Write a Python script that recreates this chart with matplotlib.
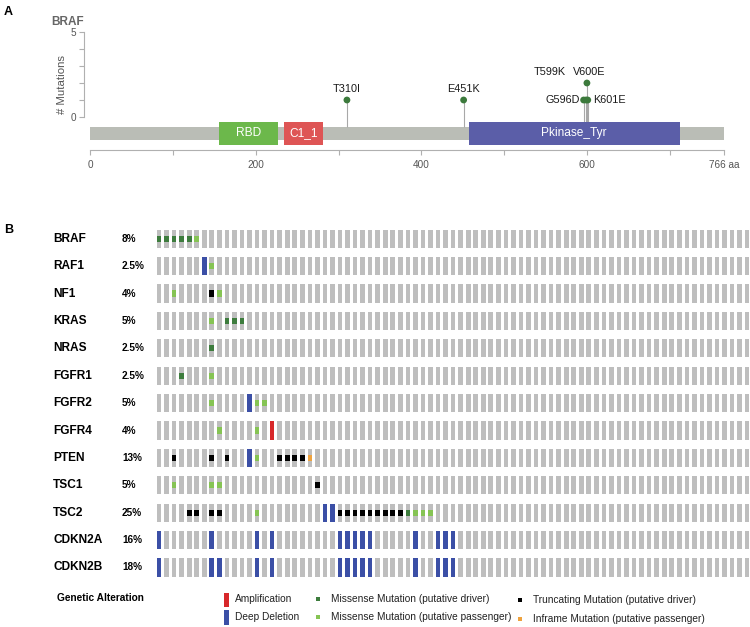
import numpy as np
import matplotlib
matplotlib.use("Agg")
import matplotlib.pyplot as plt
import matplotlib.transforms as mtransforms
from matplotlib.patches import Rectangle

plt.rcParams['font.family'] = ['Liberation Sans', 'DejaVu Sans']

# ---- panel A: BRAF lollipop ----
protein_len = 766
domain_names = ['RBD', 'C1_1', 'Pkinase_Tyr']
domain_start = [155, 234, 457]
domain_end = [227, 281, 712]
domain_colors = ['#6cb84b', '#de5555', '#5b5ea8']

mut_labels = ['T310I', 'E451K', 'G596D', 'T599K', 'V600E', 'K601E']
mut_pos = [310, 451, 596, 599, 600, 601]
mut_count = [1, 1, 1, 1, 2, 1]

# ---- panel B: oncoprint ----
genes = ['BRAF', 'RAF1', 'NF1', 'KRAS', 'NRAS', 'FGFR1', 'FGFR2', 'FGFR4',
         'PTEN', 'TSC1', 'TSC2', 'CDKN2A', 'CDKN2B']
pct = ['8%', '2.5%', '4%', '5%', '2.5%', '2.5%', '5%', '4%',
       '13%', '5%', '25%', '16%', '18%']
n_samples = 80

amplification = {'FGFR4': [15]}
deep_deletion = {'RAF1': [6], 'FGFR2': [12], 'PTEN': [12], 'TSC2': [22, 23],
                 'CDKN2A': [0, 7, 13, 15, 24, 25, 26, 27, 28, 34, 37, 38, 39],
                 'CDKN2B': [0, 7, 8, 13, 15, 24, 25, 26, 27, 28, 34, 37, 38, 39]}
missense_driver = {'BRAF': [0, 1, 2, 3, 4], 'KRAS': [9, 10, 11], 'NRAS': [7],
                   'FGFR1': [3], 'TSC2': [33]}
missense_passenger = {'BRAF': [5], 'RAF1': [7], 'NF1': [2, 8], 'KRAS': [7],
                      'FGFR1': [7], 'FGFR2': [7, 13, 14], 'FGFR4': [8, 13],
                      'PTEN': [13], 'TSC1': [2, 7, 8], 'TSC2': [13, 34, 35, 36]}
truncating = {'NF1': [7], 'PTEN': [2, 7, 9, 16, 17, 18, 19], 'TSC1': [21],
              'TSC2': [4, 5, 7, 8, 24, 25, 26, 27, 28, 29, 30, 31, 32]}
inframe = {'PTEN': [20]}

W, H = 750, 627
fig = plt.figure(figsize=(W / 100, H / 100), dpi=100)


def fx(px):
    return px / W


def fy(py):
    return 1 - py / H


# lollipop axes: 0 aa at px 90.4, 766 at px 724.3; y=0 at px 117, 17 px per mutation
axA = fig.add_axes([fx(90.4), fy(150), (724.3 - 90.4) / W, (150 - 20) / H])
axA.set_xlim(0, protein_len)
axA.set_ylim((117 - 150) / 17, (117 - 20) / 17)
for s in ['top', 'right']:
    axA.spines[s].set_visible(False)
axA.spines['left'].set_position(('outward', 4.6))
axA.spines['left'].set_bounds(0, 5)
axA.spines['left'].set_color('#b0b0b0')
axA.spines['bottom'].set_bounds(0, protein_len)
axA.spines['bottom'].set_color('#b0b0b0')
axA.set_yticks(range(6))
axA.set_yticklabels(['0', '', '', '', '', '5'])
axA.set_xticks(list(range(0, 800, 100)) + [protein_len])
axA.set_xticklabels(['0', '', '200', '', '400', '', '600', '', '766 aa'])
axA.tick_params(axis='both', colors='#b0b0b0', labelcolor='#555555',
                labelsize=7.2, length=3.5, width=0.8)
axA.tick_params(axis='y', pad=2)
axA.set_ylabel('# Mutations', fontsize=8.2, color='#555555', labelpad=3)

bar_lo, bar_hi = (117 - 140) / 17, (117 - 126.7) / 17
dom_lo, dom_hi = (117 - 145) / 17, (117 - 121.7) / 17
axA.add_patch(Rectangle((0, bar_lo), protein_len, bar_hi - bar_lo,
                        facecolor='#babdb6', edgecolor='none', zorder=1))
for name, a, b, c in zip(domain_names, domain_start, domain_end, domain_colors):
    axA.add_patch(Rectangle((a, dom_lo), b - a, dom_hi - dom_lo,
                            facecolor=c, edgecolor='none', zorder=2))
    axA.text((a + b) / 2, (dom_lo + dom_hi) / 2, name, color='white',
             fontsize=8.6, ha='center', va='center', zorder=3)

axA.vlines(mut_pos, bar_hi, mut_count, color='#a8a8a8', lw=0.8, zorder=1)
axA.scatter(mut_pos, mut_count, s=24, color='#3c7a3c', zorder=4,
            edgecolors='none')
# label placement (aa offset, mutation offset, alignment)
label_offsets = {'T310I': (0, 0.62, 'center'), 'E451K': (0, 0.62, 'center'),
                 'G596D': (-4.5, 0, 'right'), 'K601E': (6.5, 0, 'left'),
                 'T599K': (-44, 1.62, 'center'), 'V600E': (2.5, 0.62, 'center')}
for lab, p, c in zip(mut_labels, mut_pos, mut_count):
    dx, dy, ha = label_offsets[lab]
    axA.text(p + dx, c + dy, lab, fontsize=7.8, ha=ha, va='center',
             color='#1a1a1a')

fig.text(fx(4), fy(12), 'A', fontsize=9, fontweight='bold', va='center')
fig.text(fx(51), fy(22), 'BRAF', fontsize=8.5, fontweight='bold',
         color='#666666', va='center')

# oncoprint axes: column pitch 7.54 px starting at px 156.7, rows 27.4 px from 238.7
pitch, row_h = 7.54, 27.4
axB = fig.add_axes([fx(156.7), fy(238.7 + 12.5 * row_h), n_samples * pitch / W,
                    13 * row_h / H])
axB.set_xlim(0, n_samples)
axB.set_ylim(12.5, -0.5)
axB.axis('off')

cell_w, cell_h, mut_h = 0.62, 0.67, 0.23
cols = np.arange(n_samples)
for i, g in enumerate(genes):
    axB.bar(cols, cell_h, bottom=i - cell_h / 2, width=cell_w, align='edge',
            color='#bebebe', linewidth=0)
    for d, c in [(amplification, '#d7282a'), (deep_deletion, '#3b4fa6')]:
        if g in d:
            axB.bar(d[g], cell_h, bottom=i - cell_h / 2, width=cell_w,
                    align='edge', color=c, linewidth=0)
    for d, c in [(missense_driver, '#3d7c3d'), (missense_passenger, '#86c454'),
                 (truncating, '#000000'), (inframe, '#eea23e')]:
        if g in d:
            axB.bar(d[g], mut_h, bottom=i - mut_h / 2, width=cell_w,
                    align='edge', color=c, linewidth=0)

trans = mtransforms.blended_transform_factory(fig.transFigure, axB.transData)
for i, (g, p) in enumerate(zip(genes, pct)):
    axB.text(fx(53), i, g, transform=trans, fontsize=8.6, fontweight='bold',
             va='center', clip_on=False)
    axB.text(fx(122), i, p, transform=trans, fontsize=7.2, fontweight='bold',
             va='center', clip_on=False)

fig.text(fx(4), fy(230), 'B', fontsize=9, fontweight='bold', va='center')

# legend
axL = fig.add_axes([0, 0, 1, 1], zorder=-1)
axL.set_xlim(0, W)
axL.set_ylim(H, 0)
axL.axis('off')
axL.text(57, 598, 'Genetic Alteration', fontsize=7.3, fontweight='bold',
         va='center')
axL.add_patch(Rectangle((224, 593), 4.5, 14, color='#d7282a', lw=0))
axL.add_patch(Rectangle((224, 610), 4.5, 15, color='#3b4fa6', lw=0))
axL.text(235, 599, 'Amplification', fontsize=7.3, va='center', color='#222222')
axL.text(235, 617, 'Deep Deletion', fontsize=7.3, va='center', color='#222222')
sq = 4.5
for x, y, c, t in [(318, 599, '#3d7c3d', 'Missense Mutation (putative driver)'),
                   (318, 617, '#86c454', 'Missense Mutation (putative passenger)'),
                   (520, 600, '#000000', 'Truncating Mutation (putative driver)'),
                   (520, 619, '#eea23e', 'Inframe Mutation (putative passenger)')]:
    axL.add_patch(Rectangle((x - sq / 2, y - sq / 2), sq, sq, color=c, lw=0))
    axL.text(x + 13, y, t, fontsize=7.3, va='center', color='#222222')

fig.savefig('out.png', dpi=100)
